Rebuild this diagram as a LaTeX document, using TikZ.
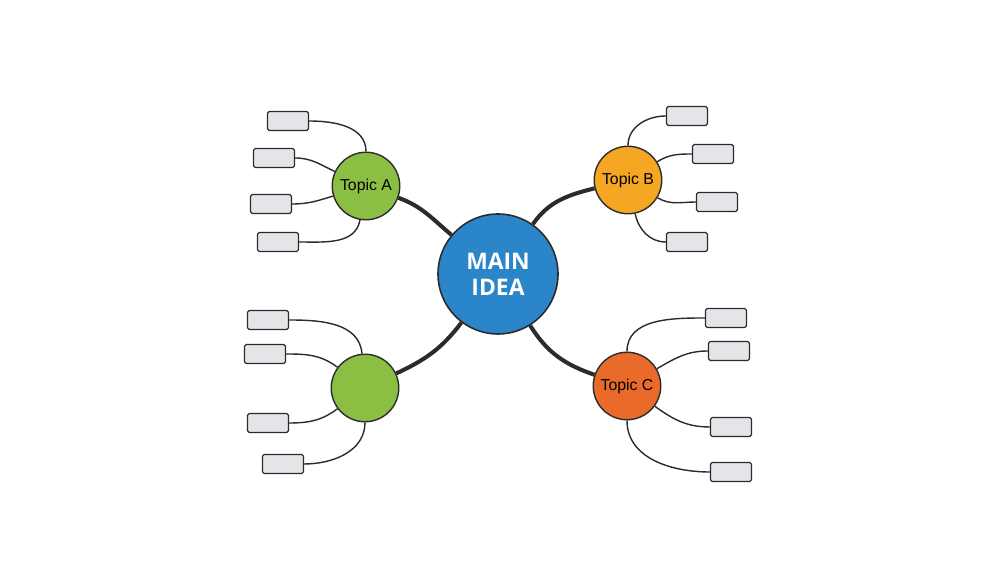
\documentclass[tikz,border=0pt]{standalone}
\usepackage{fontspec}
\setmainfont{Liberation Sans}
\newfontfamily\ideafont{Open Sans}
\definecolor{ideablue}{HTML}{2A86C8}
\definecolor{topicgreen}{HTML}{8BBF44}
\definecolor{topicorange}{HTML}{F5A623}
\definecolor{topicred}{HTML}{EA6A2A}
\definecolor{leafgray}{HTML}{E4E5E8}
\definecolor{inkline}{HTML}{2B2B2B}
\begin{document}
\begin{tikzpicture}[
topic/.style={circle,draw=inkline,line width=0.8pt,minimum size=1.35cm,inner sep=0pt,font=\fontsize{9}{10}\selectfont},
leaf/.style={rectangle,rounded corners=1pt,draw=inkline,fill=leafgray,line width=0.7pt,minimum width=0.82cm,minimum height=0.38cm,inner sep=0pt},
twig/.style={inkline,line width=0.8pt},
branch/.style={inkline,line width=2.3pt}]
\useasboundingbox (0,0) rectangle (20,11.26);
\node[circle,draw=inkline,line width=0.9pt,fill=ideablue,minimum size=2.4cm,inner sep=0pt,text=white,align=center,font=\ideafont\bfseries\fontsize{13}{15}\selectfont] (idea) at (9.96,5.78) {MAIN\\IDEA};
\node[topic,fill=topicgreen] (ta) at (7.32,7.54) {Topic A};
\node[topic,fill=topicorange] (tb) at (12.56,7.66) {Topic B};
\node[topic,fill=topicgreen] (td) at (7.30,3.50) {};
\node[topic,fill=topicred] (tc) at (12.54,3.54) {Topic C};
\draw[branch] (ta.-20) to[out=-20,in=140] (idea.140);
\draw[branch] (idea.55) to[out=55,in=194] (tb.194);
\draw[branch] (td.25) to[out=25,in=233] (idea.233);
\draw[branch] (idea.-58) to[out=-58,in=161] (tc.161);
% leaves of each topic
\foreach \p/\a [count=\i] in {{(5.76,8.84)}/90,{(5.48,8.10)}/155,{(5.42,7.18)}/197,{(5.56,6.42)}/260}{
\node[leaf] (la\i) at \p {};
\draw[twig] (la\i.east) to[out=0,in=\a] (ta.\a);}
\foreach \p/\a [count=\i] in {{(13.74,8.94)}/90,{(14.26,8.18)}/32,{(14.34,7.22)}/-31,{(13.74,6.42)}/-78}{
\node[leaf] (lb\i) at \p {};
\draw[twig] (lb\i.west) to[out=180,in=\a] (tb.\a);}
\foreach \p/\a [count=\i] in {{(5.36,4.86)}/95,{(5.30,4.18)}/143,{(5.36,2.80)}/217,{(5.66,1.98)}/270}{
\node[leaf] (ld\i) at \p {};
\draw[twig] (ld\i.east) to[out=0,in=\a] (td.\a);}
\foreach \p/\a [count=\i] in {{(14.52,4.90)}/90,{(14.58,4.24)}/30,{(14.62,2.72)}/-36,{(14.62,1.82)}/-90}{
\node[leaf] (lc\i) at \p {};
\draw[twig] (lc\i.west) to[out=180,in=\a] (tc.\a);}
\end{tikzpicture}
\end{document}
